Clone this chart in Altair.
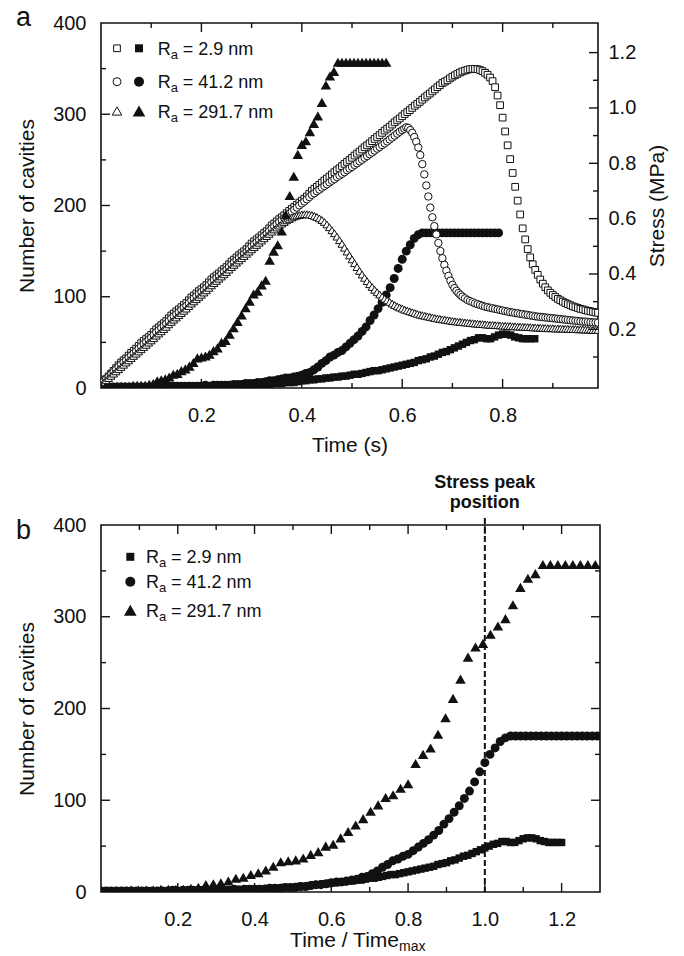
import altair as alt
import pandas as pd

FONT = "Liberation Sans"
INK = "#111111"

# ---------------- data ----------------
SERIES = ["2.9 nm", "41.2 nm", "291.7 nm"]
KEYS = ["sq", "ci", "tr"]
SHAPES = {"sq": "square", "ci": "circle", "tr": "triangle-up"}

# time of the stress peak (s) for each roughness, used for Time / Time_max
TIME_MAX = {"sq": 0.72, "ci": 0.60, "tr": 0.41}

# Number of cavities, one value every 0.008 s starting at t = 0
CAV_STEP = 0.008
CAV_SQ = [1, 1, 1, 1, 1, 1, 1, 1, 1, 1,
          1, 1, 1, 1, 1, 1, 1, 2, 1, 1,
          1, 2, 1, 2, 2, 2, 2, 2, 2, 2,
          2, 2, 3, 2, 3, 3, 3, 3, 3, 4,
          4, 4, 4, 5, 5, 5, 6, 6, 6, 7,
          8, 8, 9, 9, 10, 10, 11, 11, 12, 12,
          13, 13, 14, 15, 15, 16, 17, 18, 19, 19,
          20, 21, 22, 23, 24, 25, 26, 27, 28, 30,
          31, 32, 34, 35, 37, 39, 40, 42, 44, 46,
          48, 50, 52, 53, 55, 55, 54, 54, 56, 58,
          59, 59, 58, 56, 55, 54, 54, 54, 54]
CAV_CI = [1, 1, 1, 1, 1, 1, 1, 1, 1, 1,
          1, 1, 1, 1, 2, 1, 2, 2, 2, 2,
          2, 2, 2, 2, 2, 2, 3, 2, 3, 3,
          3, 3, 3, 4, 4, 4, 5, 5, 5, 6,
          6, 7, 8, 8, 9, 10, 11, 11, 12, 13,
          14, 16, 17, 20, 23, 27, 30, 34, 36, 39,
          41, 45, 49, 53, 57, 62, 67, 74, 80, 87,
          94, 102, 110, 120, 131, 141, 150, 157, 164, 168,
          170, 170, 170, 170, 170, 170, 170, 170, 170, 170,
          170, 170, 170, 170, 170, 170, 170, 170, 170, 170]
CAV_TR = [1, 1, 1, 1, 2, 2, 2, 2, 3, 3,
          3, 3, 4, 5, 8, 9, 10, 12, 15, 16,
          19, 21, 24, 28, 33, 34, 35, 37, 41, 44,
          50, 52, 59, 66, 73, 80, 88, 95, 103, 106,
          113, 118, 140, 150, 157, 172, 190, 211, 232, 256,
          267, 271, 281, 290, 298, 313, 332, 342, 347, 357,
          357, 357, 357, 357, 357, 357, 357, 357, 357, 357,
          357, 357]

# Stress (MPa); each list is sampled from its start time with its step
STRESS_SQ = [
    0.000, 0.010, 0.020, 0.030, 0.040, 0.050, 0.060, 0.070, 0.080, 0.088,
    0.095, 0.105, 0.115, 0.122, 0.130, 0.140, 0.150, 0.158, 0.165, 0.172,
    0.180, 0.190, 0.200, 0.207, 0.215, 0.222, 0.230, 0.240, 0.250, 0.257,
    0.265, 0.272, 0.280, 0.288, 0.295, 0.305, 0.315, 0.322, 0.330, 0.338,
    0.345, 0.352, 0.360, 0.370, 0.380, 0.388, 0.395, 0.402, 0.410, 0.418,
    0.425, 0.435, 0.445, 0.452, 0.460, 0.468, 0.475, 0.482, 0.490, 0.500,
    0.510, 0.518, 0.525, 0.532, 0.540, 0.548, 0.555, 0.565, 0.575, 0.582,
    0.590, 0.598, 0.605, 0.612, 0.620, 0.628, 0.635, 0.642, 0.650, 0.658,
    0.665, 0.672, 0.680, 0.690, 0.700, 0.708, 0.715, 0.722, 0.730, 0.738,
    0.745, 0.752, 0.760, 0.768, 0.775, 0.782, 0.790, 0.798, 0.805, 0.812,
    0.820, 0.828, 0.835, 0.842, 0.850, 0.858, 0.865, 0.872, 0.880, 0.888,
    0.895, 0.902, 0.910, 0.918, 0.925, 0.932, 0.940, 0.948, 0.955, 0.962,
    0.970, 0.978, 0.985, 0.992, 1.000, 1.008, 1.015, 1.022, 1.030, 1.038,
    1.045, 1.052, 1.060, 1.067, 1.075, 1.082, 1.090, 1.095, 1.100, 1.107,
    1.113, 1.118, 1.123, 1.128, 1.132, 1.135, 1.138, 1.140, 1.141, 1.141,
    1.140, 1.137, 1.133, 1.127, 1.120, 1.110, 1.097, 1.075, 1.045, 1.010,
    0.965, 0.915, 0.865, 0.815, 0.765, 0.715, 0.665, 0.615, 0.565, 0.525,
    0.490, 0.460, 0.435, 0.415, 0.397, 0.380, 0.365, 0.352, 0.341, 0.332,
    0.324, 0.317, 0.310, 0.305, 0.300, 0.295, 0.291, 0.287, 0.283, 0.280,
    0.277, 0.274, 0.272, 0.269, 0.267, 0.265, 0.263, 0.261, 0.260]
STRESS_SQ_START, STRESS_SQ_STEP = 0.0, 0.005

STRESS_CI_1 = [
    0.000, 0.010, 0.019, 0.028, 0.037, 0.046, 0.055, 0.064, 0.073, 0.081,
    0.088, 0.097, 0.106, 0.113, 0.121, 0.130, 0.139, 0.147, 0.155, 0.162,
    0.170, 0.180, 0.190, 0.197, 0.205, 0.212, 0.220, 0.230, 0.240, 0.247,
    0.255, 0.262, 0.270, 0.278, 0.285, 0.295, 0.305, 0.312, 0.320, 0.328,
    0.335, 0.342, 0.350, 0.360, 0.370, 0.378, 0.385, 0.392, 0.400, 0.408,
    0.415, 0.425, 0.435, 0.442, 0.450, 0.458, 0.465, 0.472, 0.480, 0.490,
    0.500, 0.508, 0.515, 0.522, 0.530, 0.538, 0.545, 0.555, 0.565, 0.572,
    0.580, 0.588, 0.595, 0.602, 0.610, 0.618, 0.625, 0.632, 0.640, 0.648,
    0.655, 0.662, 0.670, 0.678, 0.686, 0.692, 0.699, 0.705, 0.712, 0.718,
    0.724, 0.731, 0.737, 0.743, 0.750, 0.756, 0.762, 0.768, 0.775, 0.781,
    0.787, 0.794, 0.800, 0.807, 0.813, 0.820, 0.826, 0.833, 0.839, 0.846,
    0.853, 0.859, 0.866, 0.872, 0.879, 0.886, 0.893, 0.900, 0.907, 0.914,
    0.920]
STRESS_CI_1_START, STRESS_CI_1_STEP = 0.0, 0.005
STRESS_CI_2 = [
    0.925, 0.930, 0.928, 0.920, 0.910, 0.895, 0.878, 0.857, 0.830, 0.797,
    0.760, 0.720, 0.680, 0.640, 0.605, 0.573, 0.543, 0.512, 0.483, 0.457,
    0.433, 0.412, 0.393, 0.376, 0.361, 0.349, 0.339, 0.331, 0.324, 0.318]
STRESS_CI_2_START, STRESS_CI_2_STEP = 0.604, 0.004
STRESS_CI_3 = [
    0.312, 0.306, 0.302, 0.298, 0.294, 0.291, 0.288, 0.285, 0.282, 0.280,
    0.278, 0.276, 0.274, 0.272, 0.270, 0.268, 0.266, 0.264, 0.262, 0.261,
    0.259, 0.258, 0.256, 0.255, 0.253, 0.252, 0.250, 0.249, 0.247, 0.246,
    0.245, 0.244, 0.243, 0.242, 0.241, 0.240, 0.239, 0.238, 0.237, 0.236,
    0.235, 0.234, 0.233, 0.232, 0.231, 0.230, 0.229, 0.228, 0.228, 0.227,
    0.226, 0.225, 0.225, 0.224]
STRESS_CI_3_START, STRESS_CI_3_STEP = 0.725, 0.005

STRESS_TR = [
    0.000, 0.008, 0.016, 0.024, 0.032, 0.040, 0.048, 0.056, 0.064, 0.072,
    0.080, 0.088, 0.096, 0.104, 0.112, 0.120, 0.128, 0.136, 0.144, 0.152,
    0.160, 0.168, 0.177, 0.185, 0.193, 0.201, 0.209, 0.218, 0.227, 0.235,
    0.243, 0.251, 0.259, 0.267, 0.275, 0.284, 0.293, 0.301, 0.309, 0.317,
    0.325, 0.333, 0.341, 0.350, 0.359, 0.367, 0.375, 0.383, 0.391, 0.399,
    0.407, 0.416, 0.425, 0.433, 0.441, 0.449, 0.457, 0.465, 0.473, 0.481,
    0.489, 0.497, 0.505, 0.513, 0.521, 0.529, 0.537, 0.545, 0.553, 0.561,
    0.568, 0.575, 0.582, 0.588, 0.594, 0.599, 0.604, 0.608, 0.611, 0.613,
    0.615, 0.616, 0.616, 0.615, 0.613, 0.610, 0.606, 0.601, 0.595, 0.588,
    0.579, 0.569, 0.558, 0.547, 0.535, 0.522, 0.509, 0.495, 0.481, 0.467,
    0.453, 0.439, 0.425, 0.411, 0.398, 0.386, 0.374, 0.363, 0.353, 0.343,
    0.334, 0.326, 0.318, 0.311, 0.305, 0.299, 0.293, 0.288, 0.283, 0.279,
    0.275, 0.271, 0.268, 0.265, 0.262, 0.259, 0.256, 0.253, 0.251, 0.249,
    0.247, 0.245, 0.243, 0.241, 0.239, 0.238, 0.236, 0.235, 0.233, 0.232,
    0.230, 0.229, 0.228, 0.227, 0.226, 0.225, 0.224, 0.223, 0.222, 0.221,
    0.220, 0.219, 0.219, 0.218, 0.217, 0.216, 0.216, 0.215, 0.215, 0.214,
    0.213, 0.213, 0.212, 0.212, 0.211, 0.211, 0.210, 0.210, 0.209, 0.209,
    0.208, 0.208, 0.207, 0.207, 0.206, 0.206, 0.205, 0.205, 0.204, 0.204,
    0.204, 0.203, 0.203, 0.203, 0.202, 0.202, 0.202, 0.201, 0.201, 0.201,
    0.200, 0.200, 0.200, 0.199, 0.199, 0.199, 0.198, 0.198, 0.198]
STRESS_TR_START, STRESS_TR_STEP = 0.0, 0.005

# tick values
XA_MAJOR = [0.2, 0.4, 0.6, 0.8]
XA_MINOR = [0.1, 0.3, 0.5, 0.7, 0.9]
XB_MAJOR = [0.2, 0.4, 0.6, 0.8, 1.0, 1.2]
XB_MINOR = [0.1, 0.3, 0.5, 0.7, 0.9, 1.1]
N_LABELS = [0, 100, 200, 300, 400]
N_MAJOR = [100, 200, 300]
N_MINOR = [50, 150, 250, 350]
S_MAJOR = [0.2, 0.4, 0.6, 0.8, 1.0, 1.2]
S_MINOR = [0.1, 0.3, 0.5, 0.7, 0.9, 1.1]


def times(t0, dt, vals):
    return [round(t0 + i * dt, 4) for i in range(len(vals))]


cav = {
    "sq": pd.DataFrame({"t": times(0, CAV_STEP, CAV_SQ), "n": CAV_SQ}),
    "ci": pd.DataFrame({"t": times(0, CAV_STEP, CAV_CI), "n": CAV_CI}),
    "tr": pd.DataFrame({"t": times(0, CAV_STEP, CAV_TR), "n": CAV_TR}),
}
for k in KEYS:
    cav[k]["u"] = cav[k]["t"] / TIME_MAX[k]

stress = {
    "sq": pd.DataFrame({"t": times(STRESS_SQ_START, STRESS_SQ_STEP, STRESS_SQ), "s": STRESS_SQ}),
    "ci": pd.DataFrame({
        "t": times(STRESS_CI_1_START, STRESS_CI_1_STEP, STRESS_CI_1)
        + times(STRESS_CI_2_START, STRESS_CI_2_STEP, STRESS_CI_2)
        + times(STRESS_CI_3_START, STRESS_CI_3_STEP, STRESS_CI_3),
        "s": STRESS_CI_1 + STRESS_CI_2 + STRESS_CI_3}),
    "tr": pd.DataFrame({"t": times(STRESS_TR_START, STRESS_TR_STEP, STRESS_TR), "s": STRESS_TR}),
}

# ---------------- layout / styles ----------------
W_A, H_A = 497, 365
W_B, H_B = 499, 367
MAJ, MIN = 9, 5

XA = alt.Scale(domain=[0, 0.99], nice=False, zero=False)
XB = alt.Scale(domain=[0, 1.3], nice=False, zero=False)
YN = alt.Scale(domain=[0, 400], nice=False, zero=False)
YS = alt.Scale(domain=[-0.012, 1.307], nice=False, zero=False)

common_axis = dict(ticks=False, tickSize=0, domain=False, grid=False,
                   labelFontSize=20, labelColor=INK, titleFontSize=21,
                   titleFontWeight="normal", titleColor=INK)

AX_XA = alt.Axis(values=XA_MAJOR, format=".1f", labelPadding=17, title="Time (s)",
                 titlePadding=9, **common_axis)
AX_XB = alt.Axis(values=XB_MAJOR, format=".1f", labelPadding=17, title=None, **common_axis)
AX_YN = alt.Axis(values=N_LABELS, orient="left", labelPadding=15,
                 title="Number of cavities", titlePadding=15, **common_axis)
AX_YS = alt.Axis(values=S_MAJOR, format=".1f", orient="right", labelPadding=10,
                 title="Stress (MPa)", titleAngle=270, titleBaseline="top",
                 titlePadding=11, **common_axis)

OPEN_SIZE = {"sq": 45, "ci": 55, "tr": 62}
FILL_SIZE = {"sq": 55, "ci": 80, "tr": 110}


def open_marks(df, key):
    return alt.Chart(df).mark_point(
        shape=SHAPES[key], filled=True, fill="white", stroke=INK, strokeWidth=1,
        size=OPEN_SIZE[key], opacity=1, clip=True)


def filled_marks(df, key):
    return alt.Chart(df).mark_point(
        shape=SHAPES[key], filled=True, fill=INK, strokeWidth=0,
        size=FILL_SIZE[key], opacity=1, clip=True)


def vals(v):
    return pd.DataFrame({"v": v})


def rule():
    return dict(color=INK, strokeWidth=1.4)


def y_ticks(values, scale, axis, x_from, x_to):
    return alt.Chart(vals(values)).mark_rule(**rule()).encode(
        y=alt.Y("v:Q", scale=scale, axis=axis), x=alt.value(x_from), x2=alt.value(x_to))


def x_ticks(values, scale, axis, y_from, y_to):
    return alt.Chart(vals(values)).mark_rule(**rule()).encode(
        x=alt.X("v:Q", scale=scale, axis=axis), y=alt.value(y_from), y2=alt.value(y_to))


def text_at(txt, x, y, size, align="left", baseline="alphabetic", weight="normal"):
    return alt.Chart(pd.DataFrame({"label": [txt]})).mark_text(
        align=align, baseline=baseline, fontSize=size, fontWeight=weight, color=INK
    ).encode(x=alt.value(x), y=alt.value(y), text=alt.Text("label:N"))


def legend(rows_y, x_open, x_fill, x_text, with_open):
    out = []
    leg_open = {"sq": 45, "ci": 64, "tr": 90}
    leg_fill = {"sq": 64, "ci": 100, "tr": 160}
    for k, key in enumerate(KEYS):
        y = rows_y[k]
        one = pd.DataFrame({"label": ["= " + SERIES[k]]})
        if with_open:
            out.append(alt.Chart(one).mark_point(
                shape=SHAPES[key], filled=True, fill="white", stroke=INK, strokeWidth=1,
                size=leg_open[key], opacity=1).encode(x=alt.value(x_open), y=alt.value(y)))
        out.append(alt.Chart(one).mark_point(
            shape=SHAPES[key], filled=True, fill=INK, strokeWidth=0,
            size=leg_fill[key], opacity=1).encode(x=alt.value(x_fill), y=alt.value(y)))
        out.append(text_at("R", x_text, y + 6.5, 18))
        out.append(text_at("a", x_text + 13, y + 10.5, 13))
        out.append(alt.Chart(one).mark_text(
            align="left", baseline="alphabetic", fontSize=18, color=INK
        ).encode(x=alt.value(x_text + 25), y=alt.value(y + 6.5), text=alt.Text("label:N")))
    return out


# ---------------- panel a ----------------
a_layers = [
    filled_marks(cav["sq"], "sq").encode(
        x=alt.X("t:Q", scale=XA, axis=AX_XA), y=alt.Y("n:Q", scale=YN, axis=AX_YN)),
    filled_marks(cav["ci"], "ci").encode(
        x=alt.X("t:Q", scale=XA, axis=AX_XA), y=alt.Y("n:Q", scale=YN, axis=None)),
    open_marks(stress["sq"], "sq").encode(
        x=alt.X("t:Q", scale=XA, axis=AX_XA), y=alt.Y("s:Q", scale=YS, axis=AX_YS)),
    open_marks(stress["ci"], "ci").encode(
        x=alt.X("t:Q", scale=XA, axis=AX_XA), y=alt.Y("s:Q", scale=YS, axis=None)),
    open_marks(stress["tr"], "tr").encode(
        x=alt.X("t:Q", scale=XA, axis=AX_XA), y=alt.Y("s:Q", scale=YS, axis=None)),
    filled_marks(cav["tr"], "tr").encode(
        x=alt.X("t:Q", scale=XA, axis=AX_XA), y=alt.Y("n:Q", scale=YN, axis=None)),
    y_ticks(N_MAJOR, YN, None, 0, MAJ),
    y_ticks(N_MINOR, YN, None, 0, MIN),
    y_ticks(S_MAJOR, YS, None, W_A, W_A - MAJ),
    y_ticks(S_MINOR, YS, None, W_A, W_A - MIN),
    x_ticks(XA_MAJOR, XA, AX_XA, H_A, H_A - MAJ),
    x_ticks(XA_MINOR, XA, AX_XA, H_A, H_A - MIN),
    x_ticks(XA_MAJOR, XA, AX_XA, 0, MAJ),
    x_ticks(XA_MINOR, XA, AX_XA, 0, MIN),
    text_at("a", -85, 3, 27),
    alt.Chart(pd.DataFrame({"v": [0]})).mark_rule(strokeOpacity=0, strokeWidth=0.5).encode(
        x=alt.value(-100), x2=alt.value(-99), y=alt.value(-22)),
]
a_layers += legend([25.3, 58.7, 88.0], 16, 38, 56.7, True)

panel_a = alt.layer(*a_layers).resolve_scale(y="independent").properties(width=W_A, height=H_A)

# ---------------- panel b ----------------
peak = pd.DataFrame({"u": [1.0], "l1": ["Stress peak"], "l2": ["position"]})
b_layers = [
    filled_marks(cav["sq"], "sq").encode(
        x=alt.X("u:Q", scale=XB, axis=AX_XB), y=alt.Y("n:Q", scale=YN, axis=AX_YN)),
    filled_marks(cav["ci"], "ci").encode(
        x=alt.X("u:Q", scale=XB, axis=AX_XB), y=alt.Y("n:Q", scale=YN, axis=AX_YN)),
    filled_marks(cav["tr"], "tr").encode(
        x=alt.X("u:Q", scale=XB, axis=AX_XB), y=alt.Y("n:Q", scale=YN, axis=AX_YN)),
    alt.Chart(peak).mark_rule(color=INK, strokeWidth=2, strokeDash=[6, 3]).encode(
        x=alt.X("u:Q", scale=XB, axis=AX_XB), y=alt.value(-7), y2=alt.value(H_B)),
    alt.Chart(peak).mark_text(fontSize=18, fontWeight="bold", color=INK, baseline="middle").encode(
        x=alt.X("u:Q", scale=XB, axis=AX_XB), y=alt.value(-42), text="l1:N"),
    alt.Chart(peak).mark_text(fontSize=18, fontWeight="bold", color=INK, baseline="middle").encode(
        x=alt.X("u:Q", scale=XB, axis=AX_XB), y=alt.value(-22), text="l2:N"),
    y_ticks(N_MAJOR, YN, AX_YN, 0, MAJ),
    y_ticks(N_MINOR, YN, AX_YN, 0, MIN),
    y_ticks(N_MAJOR, YN, AX_YN, W_B, W_B - MAJ),
    y_ticks(N_MINOR, YN, AX_YN, W_B, W_B - MIN),
    x_ticks(XB_MAJOR, XB, AX_XB, H_B, H_B - MAJ),
    x_ticks(XB_MINOR, XB, AX_XB, H_B, H_B - MIN),
    x_ticks(XB_MAJOR, XB, AX_XB, 0, MAJ),
    x_ticks(XB_MINOR, XB, AX_XB, 0, MIN),
    text_at("b", -85, 14, 27),
    text_at("Time / Time", 298, H_B + 55, 21, align="right"),
    text_at("max", 298, H_B + 59, 14),
]
b_layers += legend([31.8, 56.8, 85.2], 0, 29.3, 45, False)

panel_b = alt.layer(*b_layers).properties(width=W_B, height=H_B)

chart = alt.vconcat(panel_a, panel_b, spacing=137, bounds="flush").properties(
    padding={"left": 0, "top": 0, "right": 5, "bottom": 0}
).configure(font=FONT).configure_view(stroke=INK, strokeWidth=1.6)

chart.save("out.html", embed_options={"renderer": "svg", "actions": False})
